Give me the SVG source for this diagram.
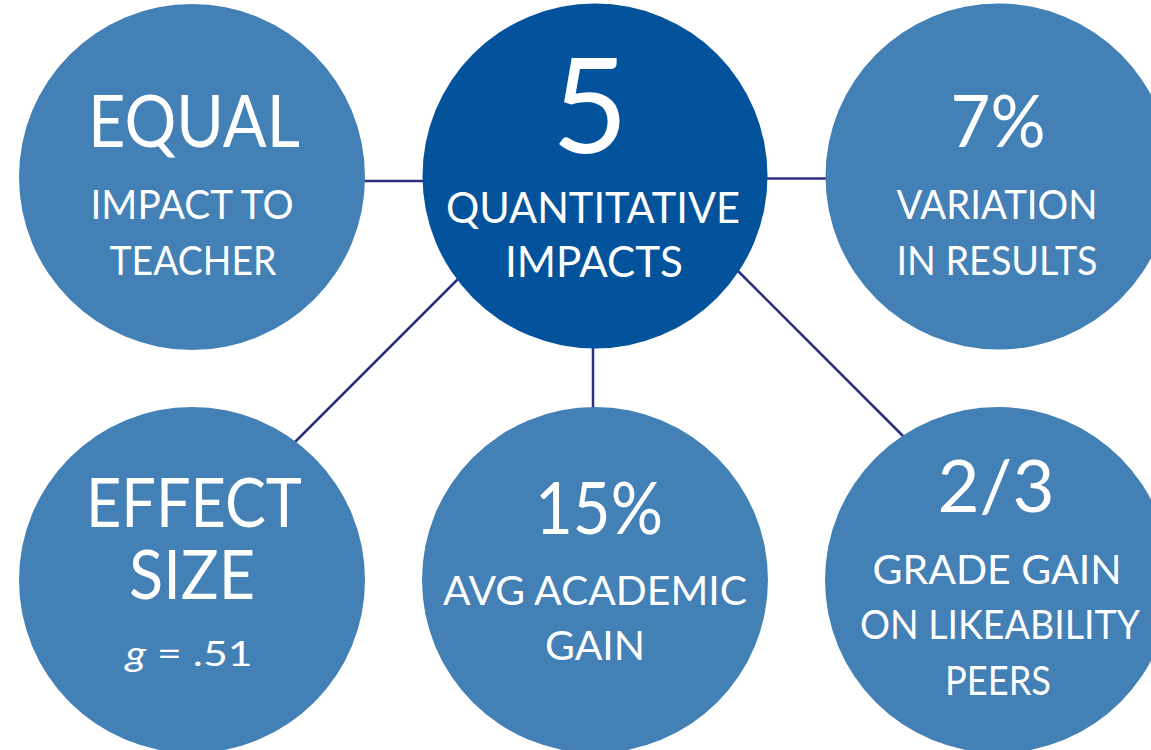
<svg xmlns="http://www.w3.org/2000/svg" width="1151" height="750" viewBox="0 0 1151 750">
  <style>
    .bubble { fill: #4380b6; }
    .hub { fill: #02539b; }
    .link { stroke: #2b2f7d; stroke-width: 2.5; fill: none; }
    text { fill: #ffffff; font-family: "Lato", "Open Sans", "Liberation Sans", sans-serif; font-weight: 400; text-anchor: middle; }
    .big { font-size: 72px; }
    .stack { font-size: 68px; }
    .huge { font-size: 132px; }
    .mid { font-size: 42px; }
    .small { font-size: 40px; }
  </style>
  <rect width="1151" height="750" fill="#ffffff"/>

  <g id="connectors">
    <line class="link" x1="360" y1="181" x2="428" y2="181"/>
    <line class="link" x1="762" y1="178.5" x2="830" y2="178.5"/>
    <line class="link" x1="462" y1="275" x2="294" y2="443"/>
    <line class="link" x1="593" y1="345" x2="593" y2="412"/>
    <line class="link" x1="738" y1="271" x2="908" y2="441"/>
  </g>

  <g id="node-equal">
    <circle class="bubble" cx="192" cy="177" r="173"/>
    <text class="big" x="194" y="147" textLength="212" lengthAdjust="spacingAndGlyphs">EQUAL</text>
    <text class="small" x="192" y="219" textLength="203" lengthAdjust="spacingAndGlyphs">IMPACT TO</text>
    <text class="small" x="193" y="275" textLength="167" lengthAdjust="spacingAndGlyphs">TEACHER</text>
  </g>

  <g id="node-hub">
    <circle class="hub" cx="595" cy="176" r="172.5"/>
    <text class="huge" x="590" y="153">5</text>
    <text class="mid" x="593" y="223" textLength="294" lengthAdjust="spacingAndGlyphs">QUANTITATIVE</text>
    <text class="mid" x="594" y="277" textLength="178" lengthAdjust="spacingAndGlyphs">IMPACTS</text>
  </g>

  <g id="node-variation">
    <circle class="bubble" cx="998.5" cy="176.5" r="173"/>
    <text class="big" x="998" y="147" textLength="95" lengthAdjust="spacingAndGlyphs">7%</text>
    <text class="small" x="997" y="219" textLength="201" lengthAdjust="spacingAndGlyphs">VARIATION</text>
    <text class="small" x="997" y="275" textLength="201" lengthAdjust="spacingAndGlyphs">IN RESULTS</text>
  </g>

  <g id="node-effect">
    <circle class="bubble" cx="192" cy="580" r="173"/>
    <text class="stack" x="194" y="527" textLength="216" lengthAdjust="spacingAndGlyphs">EFFECT</text>
    <text class="stack" x="192" y="599" textLength="126" lengthAdjust="spacingAndGlyphs">SIZE</text>
    <text x="189" y="666" font-size="34" textLength="127" lengthAdjust="spacingAndGlyphs"><tspan font-style="italic">g</tspan> = .51</text>
  </g>

  <g id="node-academic">
    <circle class="bubble" cx="595" cy="580" r="173"/>
    <text class="big" x="599" y="534" textLength="128" lengthAdjust="spacingAndGlyphs">15%</text>
    <text class="small" x="595" y="605" textLength="304" lengthAdjust="spacingAndGlyphs">AVG ACADEMIC</text>
    <text class="small" x="595" y="660" textLength="100" lengthAdjust="spacingAndGlyphs">GAIN</text>
  </g>

  <g id="node-likeability">
    <circle class="bubble" cx="998" cy="580" r="173"/>
    <text class="big" x="996" y="512" textLength="117" lengthAdjust="spacingAndGlyphs">2/3</text>
    <text class="small" x="997" y="584" textLength="249" lengthAdjust="spacingAndGlyphs">GRADE GAIN</text>
    <text class="small" x="1000" y="639" textLength="280" lengthAdjust="spacingAndGlyphs">ON LIKEABILITY</text>
    <text class="small" x="998" y="695" textLength="106" lengthAdjust="spacingAndGlyphs">PEERS</text>
  </g>
</svg>
